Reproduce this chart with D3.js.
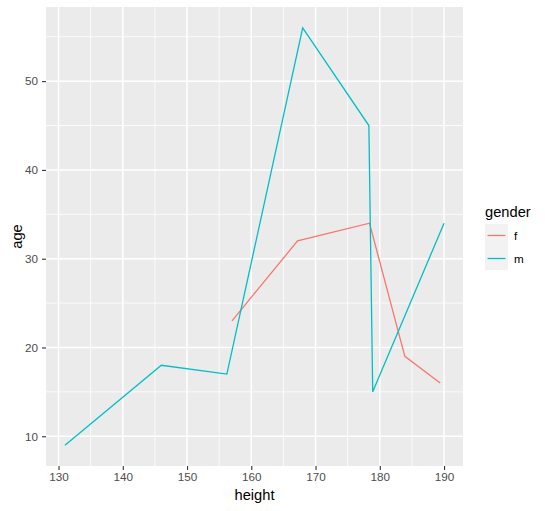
<!DOCTYPE html>
<html>
<head>
<meta charset="utf-8">
<script src="https://cdn.jsdelivr.net/npm/d3@7"></script>
<style>
  body { margin: 0; background: #fff; }
  svg { display: block; font-family: "Liberation Sans", Arial, sans-serif; }
</style>
</head>
<body>
<div id="chart"></div>
<script>
// data
const mHeight = [131, 146, 156.2, 168, 178.3, 178.9, 190];
const mAge = [9, 18, 17, 56, 45, 15, 34];
const fHeight = [157, 167.2, 178.4, 183.9, 189.4];
const fAge = [23, 32, 34, 19, 16];
const genders = ['f', 'm'];
const xTicks = [130, 140, 150, 160, 170, 180, 190];
const yTicks = [10, 20, 30, 40, 50];

const width = 545, height = 511;
const panel = { left: 46, right: 463, top: 7, bottom: 466 };
const colors = { f: '#F8766D', m: '#00BFC4' };

const series = [
  { key: 'f', pts: fHeight.map((h, i) => ({ h, a: fAge[i] })) },
  { key: 'm', pts: mHeight.map((h, i) => ({ h, a: mAge[i] })) },
];

// ggplot style 5% expansion
function expand(ext) {
  const pad = (ext[1] - ext[0]) * 0.05;
  return [ext[0] - pad, ext[1] + pad];
}
const allH = mHeight.concat(fHeight), allA = mAge.concat(fAge);
const x = d3.scaleLinear().domain(expand(d3.extent(allH))).range([panel.left, panel.right]);
const y = d3.scaleLinear().domain(expand(d3.extent(allA))).range([panel.bottom, panel.top]);

const svg = d3.select('#chart').append('svg')
  .attr('width', width).attr('height', height);

svg.append('rect')
  .attr('x', panel.left).attr('y', panel.top)
  .attr('width', panel.right - panel.left).attr('height', panel.bottom - panel.top)
  .attr('fill', '#EBEBEB');

// minor grid
const xMinor = xTicks.slice(0, -1).map(t => t + 5).concat([xTicks[0] - 5]);
const yMinor = yTicks.map(t => t + 5).concat([yTicks[0] - 5]);
const grid = svg.append('g');
grid.selectAll('.xmin').data(xMinor.filter(t => x(t) > panel.left && x(t) < panel.right))
  .enter().append('line')
  .attr('x1', d => x(d)).attr('x2', d => x(d))
  .attr('y1', panel.top).attr('y2', panel.bottom)
  .attr('stroke', '#fff').attr('stroke-width', 0.8);
grid.selectAll('.ymin').data(yMinor.filter(t => y(t) > panel.top && y(t) < panel.bottom))
  .enter().append('line')
  .attr('y1', d => y(d)).attr('y2', d => y(d))
  .attr('x1', panel.left).attr('x2', panel.right)
  .attr('stroke', '#fff').attr('stroke-width', 0.8);
// major grid
grid.selectAll('.xmaj').data(xTicks).enter().append('line')
  .attr('x1', d => x(d)).attr('x2', d => x(d))
  .attr('y1', panel.top).attr('y2', panel.bottom)
  .attr('stroke', '#fff').attr('stroke-width', 1.5);
grid.selectAll('.ymaj').data(yTicks).enter().append('line')
  .attr('y1', d => y(d)).attr('y2', d => y(d))
  .attr('x1', panel.left).attr('x2', panel.right)
  .attr('stroke', '#fff').attr('stroke-width', 1.5);

// lines
const line = d3.line().x(d => x(d.h)).y(d => y(d.a));
svg.selectAll('.series').data(series).enter().append('path')
  .attr('d', d => line(d.pts))
  .attr('fill', 'none')
  .attr('stroke', d => colors[d.key])
  .attr('stroke-width', 1.3);

// axes
const xAxis = svg.append('g')
  .attr('transform', `translate(0,${panel.bottom})`)
  .call(d3.axisBottom(x).tickValues(xTicks).tickSize(4).tickPadding(3));
const yAxis = svg.append('g')
  .attr('transform', `translate(${panel.left},0)`)
  .call(d3.axisLeft(y).tickValues(yTicks).tickSize(4).tickPadding(4));
[xAxis, yAxis].forEach(ax => {
  ax.select('.domain').remove();
  ax.selectAll('.tick line').attr('stroke', '#333').attr('stroke-width', 1.1);
  ax.selectAll('.tick text')
    .attr('fill', '#4D4D4D')
    .style('font-size', '11.7px')
    .style('font-family', '"Liberation Sans", Arial, sans-serif');
});

// axis titles
svg.append('text')
  .attr('x', (panel.left + panel.right) / 2).attr('y', 500)
  .attr('text-anchor', 'middle')
  .style('font-size', '14.7px')
  .text('height');
svg.append('text')
  .attr('transform', `translate(22,${(panel.top + panel.bottom) / 2}) rotate(-90)`)
  .attr('text-anchor', 'middle')
  .style('font-size', '14.7px')
  .text('age');

// legend
const legend = svg.append('g').attr('transform', 'translate(485,0)');
legend.append('text')
  .attr('x', 0).attr('y', 217)
  .style('font-size', '14.7px')
  .text('gender');
const keys = legend.selectAll('.key').data(genders).enter().append('g')
  .attr('transform', (d, i) => `translate(0,${224 + i * 23})`);
keys.append('rect')
  .attr('width', 23).attr('height', 23)
  .attr('fill', '#F2F2F2');
keys.append('line')
  .attr('x1', 2.5).attr('x2', 20.5)
  .attr('y1', 11.5).attr('y2', 11.5)
  .attr('stroke', d => colors[d])
  .attr('stroke-width', 1.3);
keys.append('text')
  .attr('x', 29).attr('y', 11.5)
  .attr('dy', '0.35em')
  .style('font-size', '11.7px')
  .attr('fill', '#000')
  .text(d => d);
</script>
</body>
</html>
